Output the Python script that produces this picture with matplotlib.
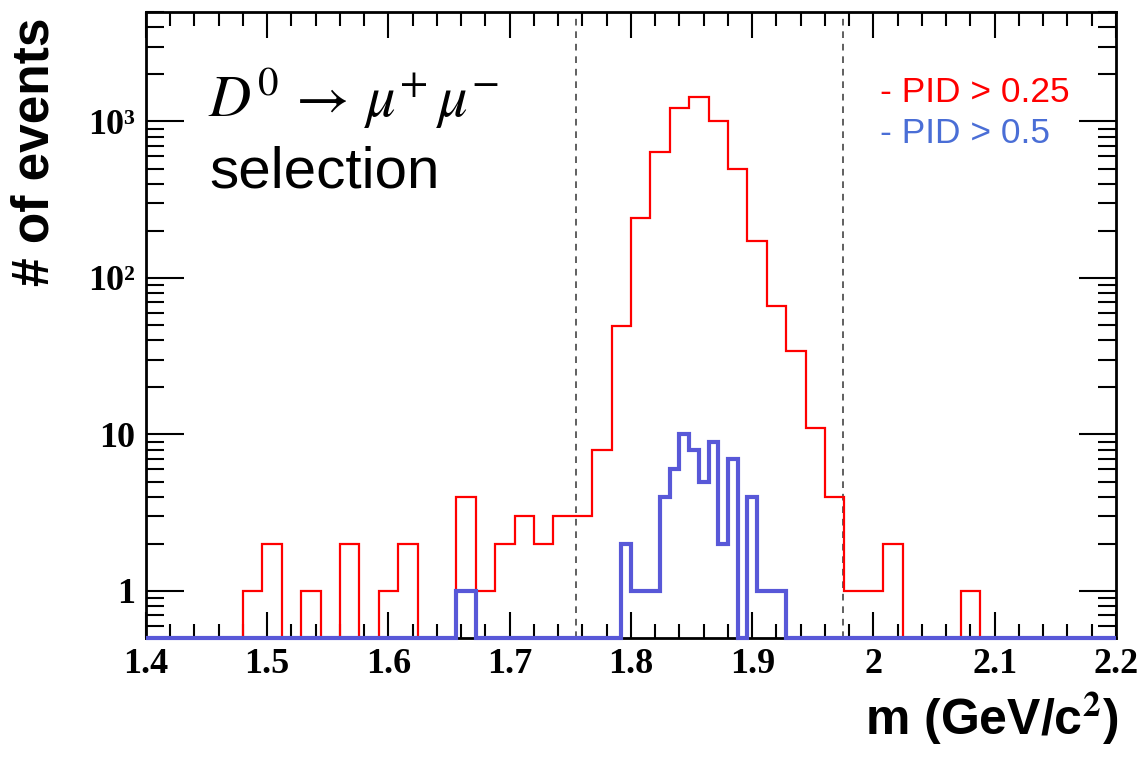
import numpy as np
import matplotlib
matplotlib.use("Agg")
import matplotlib.pyplot as plt
from matplotlib.ticker import LogLocator, FixedLocator, MultipleLocator, NullFormatter

# histogram ranges
x_min, x_max = 1.4, 2.2
y_min, y_max = 0.5, 5000

# PID > 0.25 : 50 bins of 0.016
red_counts = [0, 0, 0, 0, 0, 1, 2, 0, 1, 0,
              2, 0, 1, 2, 0, 0, 4, 1, 2, 3,
              2, 3, 3, 8, 49, 240, 640, 1220, 1440, 1010,
              495, 172, 66, 34, 11, 4, 1, 1, 2, 0,
              0, 0, 1, 0, 0, 0, 0, 0, 0, 0]

# PID > 0.5 : 100 bins of 0.008
blue_counts = [0, 0, 0, 0, 0, 0, 0, 0, 0, 0,
               0, 0, 0, 0, 0, 0, 0, 0, 0, 0,
               0, 0, 0, 0, 0, 0, 0, 0, 0, 0,
               0, 0, 1, 1, 0, 0, 0, 0, 0, 0,
               0, 0, 0, 0, 0, 0, 0, 0, 0, 2,
               1, 1, 1, 4, 6, 10, 8, 5, 9, 2,
               7, 0, 4, 1, 1, 1, 0, 0, 0, 0,
               0, 0, 0, 0, 0, 0, 0, 0, 0, 0,
               0, 0, 0, 0, 0, 0, 0, 0, 0, 0,
               0, 0, 0, 0, 0, 0, 0, 0, 0, 0]

# mass window
window = [1.755, 1.975]

y_ticks = [1, 10, 100, 1000]
y_tick_labels = ["1", "10", "10\u00b2", "10\u00b3"]
x_ticks = [1.4, 1.5, 1.6, 1.7, 1.8, 1.9, 2.0, 2.1, 2.2]
x_tick_labels = ["1.4", "1.5", "1.6", "1.7", "1.8", "1.9", "2", "2.1", "2.2"]

plt.rcParams["mathtext.fontset"] = "stix"

fig = plt.figure(figsize=(11.42, 7.57), dpi=100)
ax = fig.add_axes([0.1278, 0.1572, 0.8494, 0.8269])

red_edges = np.linspace(x_min, x_max, len(red_counts) + 1)
blue_edges = np.linspace(x_min, x_max, len(blue_counts) + 1)

# empty bins sit on the axis floor, like ROOT does on log scale
red_vals = np.maximum(np.array(red_counts, dtype=float), y_min)
blue_vals = np.maximum(np.array(blue_counts, dtype=float), y_min)

ax.stairs(red_vals, red_edges, baseline=None, color="#ff0000", lw=1.6,
          clip_on=False, zorder=3)
ax.stairs(blue_vals, blue_edges, baseline=None, color="#5858d8", lw=3.0,
          clip_on=False, zorder=4)

for xv in window:
    ax.axvline(xv, color="#444444", lw=1.2, ls=(0, (4, 3.5)), zorder=2)

ax.set_yscale("log")
ax.set_xlim(x_min, x_max)
ax.set_ylim(y_min, y_max)

ax.xaxis.set_major_locator(FixedLocator(x_ticks))
ax.set_xticklabels(x_tick_labels)
ax.xaxis.set_minor_locator(MultipleLocator(0.02))
ax.yaxis.set_major_locator(FixedLocator(y_ticks))
ax.set_yticklabels(y_tick_labels)
ax.yaxis.set_minor_locator(LogLocator(base=10, subs=np.arange(2, 10)))
ax.yaxis.set_minor_formatter(NullFormatter())

ax.tick_params(which="both", direction="in", top=True, right=True, width=1.5)
ax.tick_params(axis="x", which="major", length=19, pad=7)
ax.tick_params(axis="x", which="minor", length=10)
ax.tick_params(axis="y", which="major", length=27, pad=8)
ax.tick_params(axis="y", which="minor", length=13)

for lab in ax.get_xticklabels() + ax.get_yticklabels():
    lab.set_fontfamily("Liberation Serif")
    lab.set_fontweight("bold")
    lab.set_fontsize(26)

for sp in ax.spines.values():
    sp.set_linewidth(2)

ax.text(0.064, 0.832, r"$D^{0}\/\rightarrow\/\mu^{+}\,\mu^{-}$", transform=ax.transAxes,
        fontsize=42, va="baseline", ha="left")
ax.text(0.065, 0.72, "selection", transform=ax.transAxes, family="Liberation Sans",
        fontsize=42, va="baseline", ha="left")

ax.text(0.757, 0.856, "- PID > 0.25", transform=ax.transAxes, color="#ff0000",
        family="Liberation Sans", fontsize=25.5, va="baseline", ha="left")
ax.text(0.757, 0.791, "- PID > 0.5", transform=ax.transAxes, color="#4a6ed6",
        family="Liberation Sans", fontsize=25.5, va="baseline", ha="left")

fig.text(0.031, 0.80, "# of events", rotation=90, ha="center", va="center",
         family="Liberation Sans", fontweight="bold", fontsize=37)
fig.text(1118 / 1142, 1 - 735 / 757, r"m (GeV/c$^{\mathbf{2}}$)", ha="right",
         va="baseline", family="Liberation Sans", fontweight="bold", fontsize=36)

fig.savefig("out.png", dpi=100)
